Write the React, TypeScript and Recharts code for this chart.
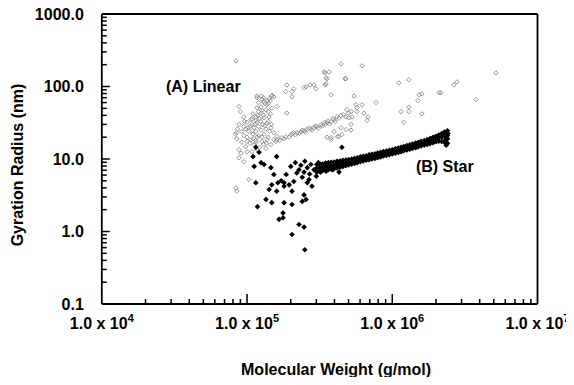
import React from 'react';
import { ScatterChart, Scatter, XAxis, YAxis, ReferenceLine, ReferenceDot } from 'recharts';

// ---------- tick values ----------
const xTicks = [
  1e4, 2e4, 3e4, 4e4, 5e4, 6e4, 7e4, 8e4, 9e4,
  1e5, 2e5, 3e5, 4e5, 5e5, 6e5, 7e5, 8e5, 9e5,
  1e6, 2e6, 3e6, 4e6, 5e6, 6e6, 7e6, 8e6, 9e6, 1e7,
];
const yTicks = [
  0.1, 0.2, 0.3, 0.4, 0.5, 0.6, 0.7, 0.8, 0.9,
  1, 2, 3, 4, 5, 6, 7, 8, 9,
  10, 20, 30, 40, 50, 60, 70, 80, 90,
  100, 200, 300, 400, 500, 600, 700, 800, 900, 1000,
];
const xMajor = [1e4, 1e5, 1e6, 1e7];
const yMajor = [0.1, 1, 10, 100, 1000];

// ---------- (A) Linear : [molecular weight, gyration radius] ----------
const linearCluster: [number, number][] = [
  [1.17e5, 70], [1.27e5, 66], [1.53e5, 72], [1.49e5, 75], [1.88e5, 43], [1.61e5, 53], [1.37e5, 56], [8.8e4, 53],
  [9.5e4, 38], [1.065e5, 35], [1.15e5, 38], [1.25e5, 43], [1.17e5, 51], [1.31e5, 37], [1.0e5, 32], [1.08e5, 30],
  [1.17e5, 32], [9.5e4, 28], [8.8e4, 30], [8.5e4, 23], [9.2e4, 24], [1.03e5, 24], [1.15e5, 24], [1.25e5, 25],
  [1.31e5, 22], [1.17e5, 20], [1.065e5, 18.5], [1.27e5, 17.4], [1.37e5, 18.5], [1.46e5, 15.8], [1.12e5, 15.8],
  [9.8e4, 14.8], [8.8e4, 13.5], [1.0e5, 12.6], [1.17e5, 13.5], [9.2e4, 17], [1.37e5, 31], [1.46e5, 27],
  [1.53e5, 23], [1.61e5, 20.5], [1.2e5, 60], [1.3e5, 62], [1.4e5, 58], [1.45e5, 64], [1.35e5, 48], [1.25e5, 52],
  [1.2e5, 45], [1.1e5, 42], [1.3e5, 40], [1.4e5, 45], [1.45e5, 42], [1.05e5, 28], [1.12e5, 27], [1.2e5, 28],
  [1.28e5, 30], [1.35e5, 26], [9.8e4, 26], [1.1e5, 22], [1.2e5, 21], [1.4e5, 20], [1.0e5, 20], [1.1e5, 19],
  [1.3e5, 16], [1.22e5, 14.5], [1.35e5, 14], [1.05e5, 16.5], [9.5e4, 21], [1.15e5, 34], [1.22e5, 36],
  [1.4e5, 33], [1.48e5, 50], [1.42e5, 68], [1.3e5, 70], [9.0e4, 45], [8.6e4, 26], [8.3e4, 22], [8.5e4, 19],
  [1.33e5, 58], [1.38e5, 64], [1.26e5, 47], [1.42e5, 38], [1.18e5, 40], [1.08e5, 36], [1.02e5, 27],
  [1.13e5, 30], [1.24e5, 33], [1.33e5, 29], [1.43e5, 24], [1.27e5, 20], [1.36e5, 16.5], [1.09e5, 24.5],
  [9.6e4, 33], [1.0e5, 17.5], [1.15e5, 18], [1.47e5, 30],
];
const linearBand: [number, number][] = [
  [1.53e5, 18.5], [1.61e5, 18.5], [1.74e5, 19.7], [1.85e5, 20.3], [2.01e5, 21.7], [2.1e5, 23.1], [2.21e5, 23.1],
  [2.35e5, 23.8], [2.47e5, 24.6], [2.59e5, 25.4], [2.75e5, 26.2], [2.89e5, 27], [3.03e5, 27.9], [3.23e5, 29.7],
  [3.39e5, 31.7], [3.55e5, 31.7], [3.79e5, 32.7], [3.97e5, 34.8], [4.17e5, 38.3], [4.43e5, 40],
  [1.58e5, 17.5], [1.68e5, 18], [1.8e5, 19], [1.95e5, 20], [2.05e5, 22.5], [2.15e5, 21.5], [2.3e5, 22.5],
  [2.4e5, 25], [2.52e5, 23.5], [2.65e5, 26.5], [2.8e5, 25], [2.95e5, 28.5], [3.1e5, 26.5], [3.3e5, 28.5],
  [3.45e5, 30], [3.6e5, 33.5], [3.7e5, 30.5], [3.9e5, 36], [4.05e5, 33], [4.3e5, 36.5], [4.6e5, 41],
  [4.8e5, 38], [5.0e5, 43],
];
const linearScatter: [number, number][] = [
  [8.4e4, 226], [4.43e5, 205], [6.19e5, 193], [3.39e5, 159], [3.67e5, 159], [3.5e5, 132], [3.5e5, 109],
  [4.8e5, 128], [2.55e5, 99], [2.71e5, 105], [2.89e5, 105], [2.98e5, 93], [3.79e5, 77], [5.45e5, 74],
  [7.73e5, 60], [1.11e6, 112], [1.3e6, 124], [1.53e6, 77], [1.6e6, 79], [1.5e6, 64], [1.15e6, 45],
  [1.3e6, 52], [1.3e6, 45], [1.6e6, 42], [1.2e6, 32], [5.62e5, 56], [5.71e5, 51], [5.71e5, 45], [4.87e5, 48],
  [5.2e5, 45], [6.19e5, 56], [6.38e5, 43], [6.7e5, 34], [5.28e5, 38], [5.03e5, 37], [4.43e5, 27],
  [4.8e5, 25.5], [5.2e5, 25], [5.2e5, 30], [3.97e5, 24], [3.55e5, 20], [3.79e5, 18.5], [4.3e5, 20.5],
  [2.16e6, 82], [2.1e6, 82], [2.66e6, 105], [2.79e6, 116], [5.17e6, 154], [3.77e6, 66], [1.88e5, 105],
  [2.1e5, 93], [2.04e5, 85], [1.85e5, 85], [2.47e5, 96], [2.04e5, 72], [1.48e5, 74], [1.17e5, 74],
  [1.25e5, 74], [3.44e5, 154], [3.55e5, 128], [3.44e5, 105], [4.72e5, 128], [6.8e5, 38],
  [8.4e4, 4.0], [8.5e4, 3.6], [1.03e5, 5.2], [9.1e4, 12], [1.08e5, 12.6], [1.15e5, 16.9], [8.8e4, 10.4],
  [9.5e4, 9.2], [3.8e5, 19.7], [4.2e5, 20.3], [4.5e5, 21.7],
];

// ---------- (B) Star ----------
const starScatter: [number, number][] = [
  [1.21e5, 12.4], [1.25e5, 8.9], [1.31e5, 8.4], [1.12e5, 7.9], [1.46e5, 7.6], [1.6e5, 10.8], [1.53e5, 6.1],
  [1.15e5, 4.7], [1.48e5, 4.4], [1.42e5, 3.8], [1.6e5, 3.6], [1.35e5, 2.77], [1.48e5, 2.5], [1.18e5, 2.2],
  [1.8e5, 2.5], [2.04e5, 2.36], [1.77e5, 1.8], [1.66e5, 1.47], [1.77e5, 1.55], [2.47e5, 3.2], [2.55e5, 2.77],
  [2.4e5, 2.6], [2.28e5, 1.25], [2.47e5, 1.15], [2.04e5, 0.91], [2.5e5, 0.56], [1.8e5, 4.7], [1.95e5, 4.4],
  [2.04e5, 3.6], [2.1e5, 4.9], [1.86e5, 6.1], [2.0e5, 7.9], [2.15e5, 8.9], [2.28e5, 7.1], [2.47e5, 6.6],
  [2.67e5, 5.2], [2.8e5, 4.2], [2.6e5, 4.7], [2.75e5, 8.4], [2.89e5, 7.1], [3.0e5, 5.8], [3.2e5, 6.6],
  [2.4e5, 5.6], [1.72e5, 5.0], [1.8e5, 4.2], [4.5e5, 14.5], [1.1e5, 10.8], [1.15e5, 14.5], [1.63e5, 4.7],
  [3.4e5, 7.6], [3.6e5, 8.4], [3.5e5, 6.8], [3.9e5, 7.1], [4.1e5, 8.4], [4.3e5, 6.6], [2.2e5, 6.4],
  [2.6e5, 7.6], [2.35e5, 8.2], [2.7e5, 6.2], [3.1e5, 8.9], [2.5e5, 9.3],
];
const starLineMW = [
  3.02e5, 3.16e5, 3.31e5, 3.47e5, 3.63e5, 3.80e5, 3.98e5, 4.17e5, 4.37e5, 4.57e5, 4.79e5, 5.01e5, 5.25e5,
  5.50e5, 5.75e5, 6.03e5, 6.31e5, 6.61e5, 6.92e5, 7.24e5, 7.59e5, 7.94e5, 8.32e5, 8.71e5, 9.12e5, 9.55e5,
  1.00e6, 1.05e6, 1.10e6, 1.15e6, 1.20e6, 1.26e6, 1.32e6, 1.38e6, 1.45e6, 1.51e6, 1.58e6, 1.66e6, 1.74e6,
  1.82e6, 1.91e6, 2.00e6, 2.09e6, 2.19e6, 2.29e6, 2.40e6,
];
const starLineLow = [
  6.6, 6.8, 6.9, 7.0, 7.1, 7.2, 7.4, 7.5, 7.7, 7.9, 8.1, 8.3, 8.5, 8.7, 8.9, 9.2, 9.4, 9.6, 9.8, 10.0, 10.2,
  10.4, 10.7, 11.0, 11.2, 11.5, 11.7, 12.0, 12.3, 12.6, 13.0, 13.3, 13.6, 14.0, 14.3, 14.7, 15.1, 15.5, 15.9,
  16.3, 16.8, 17.3, 17.6, 17.5, 17.0, 16.5,
];
const starLineMid = [
  7.5, 7.6, 7.7, 7.8, 7.9, 8.0, 8.2, 8.3, 8.5, 8.7, 8.8, 9.0, 9.2, 9.4, 9.6, 9.9, 10.1, 10.3, 10.6, 10.8, 11.0,
  11.2, 11.5, 11.8, 12.0, 12.3, 12.5, 12.8, 13.2, 13.5, 13.9, 14.2, 14.6, 15.0, 15.4, 15.8, 16.3, 16.7, 17.2,
  17.7, 18.3, 19.0, 19.5, 20.0, 20.5, 21.0,
];
const starLineHigh = [
  8.4, 8.6, 8.5, 8.8, 8.9, 9.0, 9.1, 9.3, 9.4, 9.6, 9.7, 9.8, 10.0, 10.2, 10.4, 10.7, 10.9, 11.1, 11.4, 11.6,
  11.8, 12.1, 12.4, 12.7, 12.9, 13.2, 13.4, 13.8, 14.2, 14.5, 14.9, 15.3, 15.7, 16.1, 16.6, 17.0, 17.5, 18.0,
  18.6, 19.2, 19.9, 20.6, 21.4, 22.5, 23.5, 24.5,
];
const starLineEnd: [number, number][] = [[2.35e6, 15.5], [2.4e6, 19], [2.25e6, 22], [2.42e6, 22.5], [2.33e6, 18.5]];

// ---------- build series ----------
const toPts = (arr: [number, number][]) => arr.map(([mw, rg]) => ({ mw, rg }));
const linearData = [...toPts(linearCluster), ...toPts(linearBand), ...toPts(linearScatter)];
const starData = [
  ...toPts(starScatter),
  ...starLineMW.flatMap((mw, i) => [
    { mw, rg: starLineLow[i] },
    { mw, rg: starLineMid[i] },
    { mw, rg: starLineHigh[i] },
  ]),
  ...toPts(starLineEnd),
];

const X_MIN = 1e4;
const X_MAX = 1e7;
const Y_MIN = 0.1;
const Y_MAX = 1000;

const FONT = '"Liberation Sans", Arial, Helvetica, sans-serif';

const LinearShape = (p: any) => {
  const { cx, cy } = p;
  const r = 2.2;
  return (
    <path
      d={`M${cx},${cy - r}L${cx + r},${cy}L${cx},${cy + r}L${cx - r},${cy}Z`}
      fill="none"
      stroke="#8a8a8a"
      strokeWidth={0.9}
    />
  );
};

const StarShape = (p: any) => {
  const { cx, cy } = p;
  const r = 2.8;
  return <path d={`M${cx},${cy - r}L${cx + r},${cy}L${cx},${cy + r}L${cx - r},${cy}Z`} fill="#000" />;
};

const isIn = (v: number, list: number[]) => list.some((m) => Math.abs(v - m) < m * 1e-6);

// Tick marks as scatter points sitting on the axes: shape draws a short inward stroke.
const xTickData = xTicks.filter((v) => v > X_MIN && v < X_MAX).map((v) => ({ mw: v, rg: Y_MIN, major: isIn(v, xMajor) }));
const yTickData = yTicks.filter((v) => v > Y_MIN && v < Y_MAX).map((v) => ({ mw: X_MIN, rg: v, major: isIn(v, yMajor) }));

const XTickMark = (p: any) => {
  const { cx, cy, payload } = p;
  const len = payload && payload.major ? 10 : 5;
  return <rect x={cx - 0.75} y={cy - len} width={1.5} height={len} fill="#000" />;
};
const YTickMark = (p: any) => {
  const { cx, cy, payload } = p;
  const len = payload && payload.major ? 8 : 5;
  return <rect x={cx} y={cy - 0.75} width={len} height={1.5} fill="#000" />;
};

const XTick = (props: any) => {
  const { x, y, payload } = props;
  const v = payload.value;
  if (!isIn(v, xMajor)) return <g />;
  const exp = Math.round(Math.log10(v));
  return (
    <text x={x} y={y + 25} textAnchor="middle" fontFamily={FONT} fontWeight="bold" fontSize={16} fill="#000">
      1.0 x 10
      <tspan dy={-7} fontSize={11}>
        {exp}
      </tspan>
    </text>
  );
};

const YTick = (props: any) => {
  const { x, y, payload } = props;
  const v = payload.value;
  if (!isIn(v, yMajor)) return <g />;
  return (
    <text x={x - 18} y={y} dy="0.36em" textAnchor="end" fontFamily={FONT} fontWeight="bold" fontSize={16} fill="#000">
      {v.toFixed(1)}
    </text>
  );
};

const labelStyle = { fill: '#000', fontSize: 16, fontWeight: 'bold', fontFamily: FONT };

export default function App() {
  return (
    <div style={{ position: 'relative', width: 574, height: 385, margin: -8, background: '#fff' }}>
      <ScatterChart width={574} height={385} margin={{ top: 14, right: 36.5, bottom: 0, left: 0 }}>
        <XAxis
          dataKey="mw"
          type="number"
          scale="log"
          domain={[X_MIN, X_MAX]}
          ticks={xTicks}
          interval={0}
          allowDataOverflow
          axisLine={{ stroke: '#000', strokeWidth: 1.8 }}
          tickLine={false}
          tickSize={0}
          tickMargin={0}
          height={81}
          tick={<XTick />}
        />
        <YAxis
          dataKey="rg"
          type="number"
          scale="log"
          domain={[Y_MIN, Y_MAX]}
          ticks={yTicks}
          interval={0}
          allowDataOverflow
          axisLine={{ stroke: '#000', strokeWidth: 1.8 }}
          tickLine={false}
          tickSize={0}
          tickMargin={0}
          width={101.8}
          tick={<YTick />}
        />
        <ReferenceLine y={Y_MAX} stroke="#000" strokeWidth={1.8} ifOverflow="visible" />
        <ReferenceLine x={X_MAX} stroke="#000" strokeWidth={1.8} ifOverflow="visible" />
        <Scatter data={xTickData} shape={XTickMark} isAnimationActive={false} />
        <Scatter data={yTickData} shape={YTickMark} isAnimationActive={false} />
        <Scatter data={linearData} shape={LinearShape} isAnimationActive={false} />
        <Scatter data={starData} shape={StarShape} isAnimationActive={false} />
        <ReferenceDot x={5.0e4} y={100} r={0} stroke="none" fill="none" label={{ value: '(A) Linear', position: 'center', ...labelStyle }} />
        <ReferenceDot x={2.3e6} y={8} r={0} stroke="none" fill="none" label={{ value: '(B) Star', position: 'center', ...labelStyle }} />
      </ScatterChart>
      <svg width={574} height={385} style={{ position: 'absolute', left: 0, top: 0, pointerEvents: 'none' }}>
        <text x={336} y={375} textAnchor="middle" fontFamily={FONT} fontWeight="bold" fontSize={16} fill="#000">
          Molecular Weight (g/mol)
        </text>
        <text
          x={0}
          y={0}
          transform="translate(23,165) rotate(-90)"
          textAnchor="middle"
          fontFamily={FONT}
          fontWeight="bold"
          fontSize={16}
          fill="#000"
        >
          Gyration Radius (nm)
        </text>
      </svg>
    </div>
  );
}
